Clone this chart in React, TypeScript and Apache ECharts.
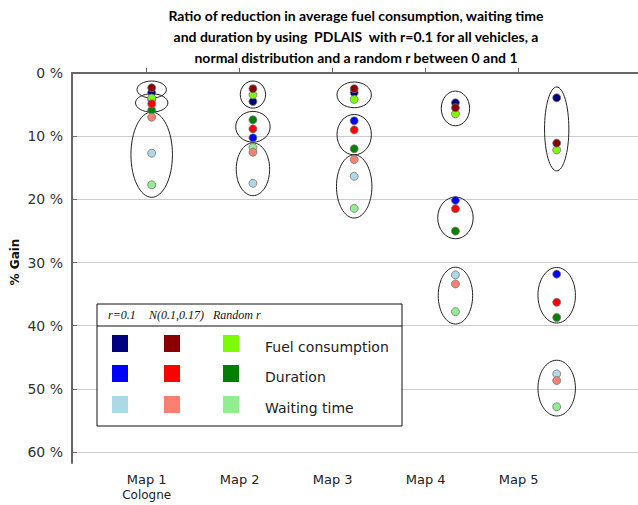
import React, { useEffect, useRef } from 'react';
import * as echarts from 'echarts';

// ---- categories / ticks ----
const mapLabels = ['Map 1', 'Map 2', 'Map 3', 'Map 4', 'Map 5'];
const mapSubLabels = ['Cologne', '', '', '', ''];
const mapTickValues = [1, 2, 3, 4, 5];
const yTickValues = [0, 10, 20, 30, 40, 50, 60];

// ---- series values (% gain, per map) ----
const fuelR01 = [3.1, 4.5, 3.12, 4.71, 3.92];
const durationR01 = [4.2, 10.26, 7.57, 20.16, 31.84];
const waitingR01 = [12.7, 17.46, 16.35, 31.96, 47.63];
const fuelNormal = [2.33, 2.49, 2.49, 5.5, 11.1];
const durationNormal = [4.87, 8.84, 9.0, 21.48, 36.3];
const waitingNormal = [7.0, 12.54, 13.7, 33.39, 48.68];
const fuelRandom = [3.97, 3.44, 4.18, 6.46, 12.17];
const durationRandom = [5.9, 7.41, 12.0, 25.03, 38.7];
const waitingRandom = [17.7, 11.8, 21.43, 37.78, 52.84];

// ---- ellipse groups: [map, top %, bottom %, width (x units)] ----
const ellipseMaps = [1, 1, 1, 2, 2, 2, 3, 3, 3, 4, 4, 4, 5, 5, 5];
const ellipseTops = [1.27, 3.28, 6.19, 1.27, 6.08, 11.06, 1.43, 6.56, 12.96, 2.86, 19.63, 30.74, 2.22, 30.79, 45.47];
const ellipseBottoms = [3.97, 6.19, 19.68, 5.56, 10.95, 19.42, 5.5, 12.96, 22.96, 8.36, 26.24, 39.74, 15.5, 39.58, 54.3];
const ellipseWidths = [0.29, 0.32, 0.41, 0.25, 0.34, 0.33, 0.34, 0.34, 0.35, 0.28, 0.35, 0.34, 0.24, 0.37, 0.37];

// ---- legend ----
const legendHeaders = ['r=0.1', 'N(0.1,0.17)', 'Random r'];
const legendRows = ['Fuel consumption', 'Duration', 'Waiting time'];

// draw order: r=0.1, random, normal
const seriesDefs = [
  { name: 'Fuel r=0.1', color: '#000080', data: fuelR01 },
  { name: 'Duration r=0.1', color: '#0000FF', data: durationR01 },
  { name: 'Waiting r=0.1', color: '#ADD8E6', data: waitingR01 },
  { name: 'Fuel random', color: '#7CFC00', data: fuelRandom },
  { name: 'Duration random', color: '#008000', data: durationRandom },
  { name: 'Waiting random', color: '#90EE90', data: waitingRandom },
  { name: 'Fuel normal', color: '#8B0000', data: fuelNormal },
  { name: 'Duration normal', color: '#FF0000', data: durationNormal },
  { name: 'Waiting normal', color: '#FA8072', data: waitingNormal },
];

const legendColors = [
  ['#000080', '#8B0000', '#7CFC00'],
  ['#0000FF', '#FF0000', '#008000'],
  ['#ADD8E6', '#FA8072', '#90EE90'],
];

const SANS = 'DejaVu Sans';

export default function App() {
  const ref = useRef<HTMLDivElement>(null);

  useEffect(() => {
    if (!ref.current) return;
    const chart = echarts.init(ref.current, undefined, { renderer: 'svg' });

    const ellipseData = ellipseMaps.map((m, i) => [m, ellipseTops[i], ellipseBottoms[i], ellipseWidths[i]]);

    const scatterSeries = seriesDefs.map((s) => ({
      type: 'scatter',
      name: s.name,
      xAxisIndex: 1,
      yAxisIndex: 0,
      z: 3,
      symbol: 'circle',
      symbolSize: 8,
      itemStyle: { color: s.color, borderColor: '#777', borderWidth: 0.8, opacity: 1 },
      data: s.data.map((v, i) => [mapTickValues[i], v]),
    }));

    // legend graphics
    const boxL = 97, boxT = 304, boxW = 305, boxH = 122;
    const colX = [112, 164, 223];
    const rowY = [335, 365, 396];
    const headerX = [108, 149, 213];
    const legendEls: any[] = [
      {
        type: 'rect',
        shape: { x: boxL, y: boxT, width: boxW, height: boxH },
        style: { fill: '#fff', stroke: '#111', lineWidth: 1 },
        z: 100,
      },
      {
        type: 'line',
        shape: { x1: boxL, y1: 326, x2: boxL + boxW, y2: 326 },
        style: { stroke: '#111', lineWidth: 1 },
        z: 101,
      },
    ];
    legendHeaders.forEach((h, i) => {
      legendEls.push({
        type: 'text',
        z: 101,
        style: {
          text: h,
          x: headerX[i],
          y: 315,
          textVerticalAlign: 'middle',
          fontFamily: 'Liberation Serif',
          fontStyle: 'italic',
          fontSize: 12,
          fill: '#111',
        },
      });
    });
    legendRows.forEach((r, ri) => {
      legendColors[ri].forEach((c, ci) => {
        legendEls.push({
          type: 'rect',
          z: 101,
          shape: { x: colX[ci], y: rowY[ri], width: 16, height: 17 },
          style: { fill: c },
        });
      });
      legendEls.push({
        type: 'text',
        z: 101,
        style: {
          text: r,
          x: 265,
          y: rowY[ri] + 12,
          textVerticalAlign: 'middle',
          fontFamily: SANS,
          fontSize: 14,
          fill: '#222',
        },
      });
    });

    const option: any = {
      animation: false,
      backgroundColor: '#fff',
      grid: { left: 72, right: 0, top: 73, bottom: 42, outerBoundsMode: 'none', containLabel: false },
      xAxis: [
        {
          type: 'value',
          min: 0.197,
          max: 6.283,
          axisLine: { show: true, lineStyle: { color: '#666', width: 2 } },
          axisTick: { show: true, inside: true, length: 5, customValues: mapTickValues, lineStyle: { color: '#666', width: 1 } },
          axisLabel: {
            customValues: mapTickValues,
            margin: 9,
            formatter: (v: number) => {
              const i = Math.round(v) - 1;
              if (i < 0 || i > 4 || Math.abs(v - Math.round(v)) > 1e-6) return '';
              const sub = mapSubLabels[i];
              return sub ? `{a|${mapLabels[i]}}\n{b|${sub}}` : `{a|${mapLabels[i]}}`;
            },
            rich: {
              a: { fontFamily: SANS, fontSize: 13, color: '#222', lineHeight: 15 },
              b: { fontFamily: SANS, fontSize: 12, color: '#222', lineHeight: 15 },
            },
          },
          splitLine: { show: false },
        },
        {
          type: 'value',
          min: 0.213,
          max: 5.803,
          show: false,
          splitLine: { show: false },
        },
      ],
      yAxis: {
        type: 'value',
        inverse: true,
        min: 0,
        max: 61.74,
        interval: 10,
        axisLine: { show: true, lineStyle: { color: '#666', width: 2 } },
        axisTick: { show: true, inside: true, length: 5, customValues: yTickValues, lineStyle: { color: '#666', width: 1 } },
        axisLabel: {
          customValues: yTickValues,
          margin: 9,
          fontFamily: SANS,
          fontSize: 14,
          color: '#333',
          formatter: (v: number) => (Math.abs(v % 10) < 1e-6 && v <= 60 ? `${v} %` : ''),
        },
        splitLine: { show: true, lineStyle: { color: '#cccccc', width: 1 } },
      },
      graphic: [
        {
          type: 'text',
          z: 100,
          style: {
            text:
              'Ratio of reduction in average fuel consumption, waiting time\nand duration by using  PDLAIS  with r=0.1 for all vehicles, a\nnormal distribution and a random r between 0 and 1',
            x: 356,
            y: 5,
            textAlign: 'center',
            textVerticalAlign: 'top',
            fontFamily: 'Lato',
            fontWeight: 'bold',
            fontSize: 14,
            lineHeight: 21,
            fill: '#000',
          },
        },
        {
          type: 'text',
          z: 100,
          x: 14.5,
          y: 262,
          rotation: Math.PI / 2,
          style: {
            text: '% Gain',
            x: 0,
            y: 0,
            textAlign: 'center',
            textVerticalAlign: 'middle',
            fontFamily: SANS,
            fontWeight: 'bold',
            fontSize: 12,
            fill: '#111',
          },
        },
        ...legendEls,
      ],
      series: [
        {
          type: 'custom',
          name: 'groups',
          xAxisIndex: 1,
          yAxisIndex: 0,
          z: 2,
          silent: true,
          data: ellipseData,
          renderItem: (params: any, api: any) => {
            const x = api.value(0);
            const top = api.value(1);
            const bottom = api.value(2);
            const w = api.value(3);
            const pTop = api.coord([x, top]);
            const pBot = api.coord([x, bottom]);
            const rx = api.size([w, 0])[0] / 2;
            return {
              type: 'ellipse',
              shape: { cx: pTop[0], cy: (pTop[1] + pBot[1]) / 2, rx, ry: Math.abs(pBot[1] - pTop[1]) / 2 },
              style: { fill: 'none', stroke: '#222', lineWidth: 1 },
            };
          },
        },
        ...scatterSeries,
      ],
    };

    chart.setOption(option);
    return () => chart.dispose();
  }, []);

  return (
    <div
      ref={ref}
      style={{ position: 'absolute', left: 0, top: 0, width: 638, height: 505, background: '#fff' }}
    />
  );
}
